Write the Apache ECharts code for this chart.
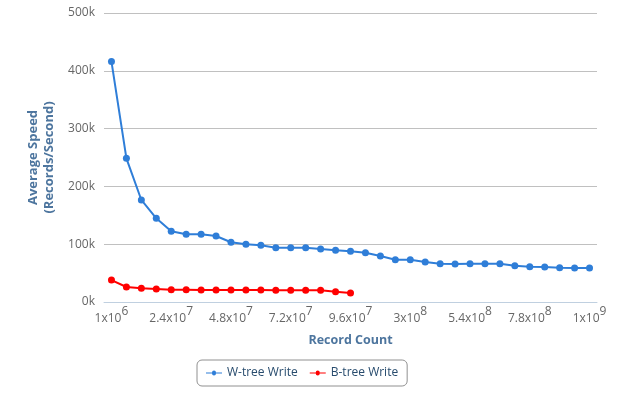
<!DOCTYPE html>
<html><head><meta charset="utf-8">
<script src="https://cdn.jsdelivr.net/npm/echarts@6/dist/echarts.min.js"></script>
<style>html,body{margin:0;padding:0;background:#fff}#c{width:626px;height:398px}</style>
</head><body><div id="c"></div>
<script>
const categories = [1e6, 6e6, 1.2e7, 1.8e7, 2.4e7, 3e7, 3.6e7, 4.2e7, 4.8e7, 5.4e7, 6e7, 6.6e7, 7.2e7, 7.8e7, 8.4e7, 9e7, 9.6e7,
  1.2e8, 1.8e8, 2.4e8, 3e8, 3.6e8, 4.2e8, 4.8e8, 5.4e8, 6e8, 6.6e8, 7.2e8, 7.8e8, 8.4e8, 9e8, 9.6e8, 1e9];
const wtreeWrite = [416000, 248600, 176500, 144800, 122300, 117100, 117100, 114200, 103300, 99800, 98100, 94000, 94000, 94000, 91700, 89400, 87700,
  85300, 79600, 73200, 73200, 69200, 66300, 65700, 66300, 66300, 66300, 62800, 61100, 60600, 59400, 58800, 58800];
const btreeWrite = [38000, 26000, 23600, 22500, 21300, 21300, 20800, 20800, 20800, 20800, 20800, 20200, 20200, 20200, 20200, 17900, 15600];
const yTicks = [0, 100000, 200000, 300000, 400000, 500000];

const FONT = '"Open Sans", "DejaVu Sans", sans-serif';
function fmtX(v) {
  const n = Number(v);
  const e = Math.floor(Math.log10(n) + 1e-9);
  let m = n / Math.pow(10, e);
  m = Math.round(m * 100) / 100;
  return '{b|' + m + 'x10}{s|' + e + '}';
}
const chart = echarts.init(document.getElementById('c'));
chart.setOption({
  animation: false,
  textStyle: { fontFamily: FONT },
  grid: { left: 104, right: 29, top: 13, bottom: 96 },
  legend: {
    top: 360, left: 197,
    data: ['W-tree Write', 'B-tree Write'],
    borderColor: '#909090', borderWidth: 1, borderRadius: 5,
    padding: [7, 9, 7, 9], itemGap: 12, itemWidth: 16, itemHeight: 8,
    textStyle: { color: '#274b6d', fontSize: 12, fontFamily: FONT },
    icon: 'path://M0,4L6,4A2,2 0 1,1 10,4L16,4L16,5L10,5A2,2 0 1,1 6,5L0,5Z'
  },
  xAxis: {
    type: 'category',
    data: categories.map(String),
    boundaryGap: true,
    name: 'Record Count', nameLocation: 'middle', nameGap: 32,
    nameTextStyle: { color: '#4d759e', fontWeight: 'bold', fontSize: 12.5, fontFamily: FONT },
    axisLine: { lineStyle: { color: '#c0d0e0' } },
    axisTick: { interval: 1, alignWithLabel: false, length: 5, lineStyle: { color: '#c0d0e0' } },
    axisLabel: {
      interval: 3, margin: 4,
      formatter: fmtX,
      rich: {
        b: { fontSize: 12, color: '#666', fontFamily: FONT, verticalAlign: 'bottom' },
        s: { fontSize: 12, color: '#666', fontFamily: FONT, verticalAlign: 'top', padding: [0, 0, 7, 0] }
      }
    },
    splitLine: { show: false }
  },
  yAxis: {
    type: 'value', min: 0, max: 500000, interval: 100000,
    name: 'Average Speed\n(Records/Second)', nameLocation: 'middle', nameGap: 40, nameRotate: 90,
    nameTextStyle: { color: '#4d759e', fontWeight: 'bold', fontSize: 13, fontFamily: FONT, lineHeight: 16 },
    axisLine: { show: false }, axisTick: { show: false },
    axisLabel: { color: '#666', fontSize: 12, margin: 9, formatter: v => (v / 1000) + 'k' },
    splitLine: { lineStyle: { color: '#c0c0c0' } }
  },
  series: [
    { name: 'W-tree Write', type: 'line', data: wtreeWrite, color: '#2f7ed8', symbol: 'circle', symbolSize: 7,
      lineStyle: { width: 2 } },
    { name: 'B-tree Write', type: 'line', data: btreeWrite, color: '#ff0000', symbol: 'circle', symbolSize: 7,
      lineStyle: { width: 2 } }
  ]
});
</script></body></html>
